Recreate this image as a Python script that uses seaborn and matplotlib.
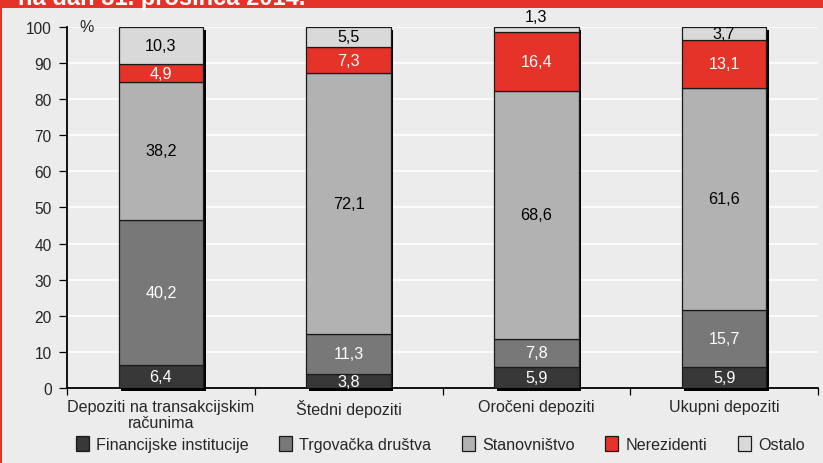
import pandas as pd
import numpy as np
import matplotlib
matplotlib.use('Agg')
import matplotlib.pyplot as plt
import matplotlib.transforms as mtransforms
from matplotlib.patches import Patch, Rectangle
import seaborn as sns

# Podaci (u %)
kategorije = ['Depoziti na transakcijskim\nračunima', 'Štedni depoziti',
              'Oročeni depoziti', 'Ukupni depoziti']
grupe = ['Financijske institucije', 'Trgovačka društva', 'Stanovništvo',
         'Nerezidenti', 'Ostalo']
financijske = [6.4, 3.8, 5.9, 5.9]
trgovacka = [40.2, 11.3, 7.8, 15.7]
stanovnistvo = [38.2, 72.1, 68.6, 61.6]
nerezidenti = [4.9, 7.3, 16.4, 13.1]
ostalo = [10.3, 5.5, 1.3, 3.7]
boje = ['#383838', '#787878', '#b2b2b2', '#e5332a', '#d9d9d9']

serije = [financijske, trgovacka, stanovnistvo, nerezidenti, ostalo]
df = pd.DataFrame([(k, g, v) for g, s in zip(grupe, serije)
                   for k, v in zip(kategorije, s)],
                  columns=['kategorija', 'grupa', 'udio'])
ukupno = df.groupby('kategorija', sort=False)['udio'].sum().reset_index()

sns.set_style('white')
plt.rcParams['font.family'] = ['Liberation Sans', 'DejaVu Sans']
bg = '#ececec'
fs = 11.6

fig = plt.figure(figsize=(8.23, 4.64), dpi=100, facecolor=bg)
ax = fig.add_axes([0.0814, 0.1616, 0.9126, 0.7781], facecolor=bg)

# sjena iza stupaca
sns.histplot(data=ukupno, x='kategorija', weights='udio', discrete=True,
             shrink=0.45, color='black', alpha=1, linewidth=0, ax=ax, zorder=1)
sjene = list(ax.patches)
pomak = mtransforms.ScaledTranslation(2.5 / 100, -3 / 100, fig.dpi_scale_trans)
for p in sjene:
    p.set_transform(ax.transData + pomak)
    p.set_clip_on(False)

# seaborn slaze prvu razinu na vrh, pa je redoslijed obrnut
sns.histplot(data=df, x='kategorija', weights='udio', hue='grupa',
             hue_order=grupe[::-1], palette=dict(zip(grupe, boje)),
             multiple='stack', discrete=True, shrink=0.45, alpha=1,
             edgecolor='#1a1a1a', linewidth=0.9, legend=False, ax=ax, zorder=3)
stupci = [p for p in ax.patches if p not in sjene]

# oznake vrijednosti
for p in stupci:
    h = p.get_height()
    if h <= 0:
        continue
    fc = matplotlib.colors.to_hex(p.get_facecolor())
    boja = 'white' if fc in ['#383838', '#787878', '#e5332a'] else 'black'
    xc = p.get_x() + p.get_width() / 2
    txt = f'{h:.1f}'.replace('.', ',')
    if h < 3:
        ax.text(xc, p.get_y() + h + 0.8, txt, ha='center', va='bottom',
                fontsize=fs, color='black', clip_on=False)
    else:
        ax.text(xc, p.get_y() + h / 2, txt, ha='center', va='center',
                fontsize=fs, color=boja, zorder=5)

ax.set_xlim(-0.5, 3.5)
ax.set_ylim(0, 100)
ax.set_yticks(range(0, 101, 10))
ax.yaxis.grid(True, color='white', linewidth=1.2)
ax.set_axisbelow(True)
ax.set_xticks(range(4))
ax.set_xticklabels(kategorije, fontsize=fs, linespacing=1.1)
ax.set_xticks(np.arange(-0.5, 4, 1), minor=True)
ax.tick_params(axis='x', which='major', length=0, pad=8)
ax.tick_params(axis='x', which='minor', length=5, width=0.9, color='black',
               direction='out', bottom=True)
ax.tick_params(axis='y', length=5.5, width=0.9, color='black', direction='out',
               labelsize=11.2, pad=5.5, left=True)
ax.set_xlabel('')
ax.set_ylabel('')
for s in ['top', 'right']:
    ax.spines[s].set_visible(False)
for s in ['left', 'bottom']:
    ax.spines[s].set_color('black')
    ax.spines[s].set_linewidth(1.3)
ax.text(-0.435, 100, '%', ha='left', va='center', fontsize=fs)

# legenda
ruke = [Patch(facecolor=b, edgecolor='#1a1a1a', linewidth=0.9, label=g)
        for g, b in zip(grupe, boje)]
fig.legend(handles=ruke, loc='center', bbox_to_anchor=(0.535, 0.041),
           ncol=5, frameon=False, fontsize=fs, handlelength=0.8,
           handleheight=1.0, handletextpad=0.45, columnspacing=1.9)

# crvena traka naslova
fig.patches.append(Rectangle((0, 1 - 9 / 464), 1, 9 / 464, transform=fig.transFigure,
                             facecolor='#e5332a', edgecolor='none', zorder=0))
fig.patches.append(Rectangle((0, 0), 2 / 823, 1, transform=fig.transFigure,
                             facecolor='#e5332a', edgecolor='none', zorder=0))
fig.text(18 / 823, 1 - 5 / 464, 'na dan 31. prosinca 2014.', color='white',
         fontsize=17, fontweight='bold', va='baseline', ha='left')

fig.savefig('out.png', dpi=100, facecolor=bg)
